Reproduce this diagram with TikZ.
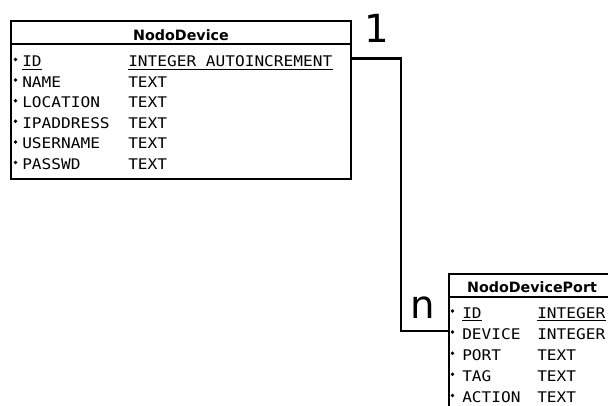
\documentclass[tikz,border=0pt]{standalone}
\usepackage{fontspec}
\newfontfamily\monof[FakeStretch=1.1]{DejaVu Sans Mono}
\newfontfamily\sansf{DejaVu Sans}
\newcommand\mfont{\monof\fontsize{11}{13}\selectfont}
\newcommand\hfont{\sansf\bfseries\fontsize{10.7}{13}\selectfont}
\newcommand\cfont{\sansf\fontsize{29}{32}\selectfont}
\tikzset{
 tbl/.style={draw, line width=1.6pt, inner sep=0pt, outer sep=0pt, anchor=north west},
 hdr/.style={font=\hfont, anchor=base, inner sep=0pt},
 fld/.style={font=\mfont, anchor=base west, inner sep=0pt},
 fdot/.style={circle, fill, inner sep=0pt, minimum size=2.8pt},
 conn/.style={line width=1.6pt},
 sep/.style={line width=1.6pt},
 card/.style={font=\cfont, anchor=base, inner sep=0pt},
 uline/.style={line width=0.8pt}
}
\begin{document}
\begin{tikzpicture}[x=0.75pt,y=-0.75pt]
\useasboundingbox (0,0) rectangle (608,405);
\clip (0,0) rectangle (608,405);
\fill[white] (0,0) rectangle (608,405);
% NodoDevice table
\node[tbl, minimum width=255pt, minimum height=118.5pt] (dev) at (11,21) {};
\node[hdr] (devh) at (181,40) {NodoDevice};
\draw[sep] (dev.west |- 0,44) -- (dev.east |- 0,44);
\foreach \n/\t [count=\i from 0] in {ID/INTEGER AUTOINCREMENT,NAME/TEXT,LOCATION/TEXT,IPADDRESS/TEXT,USERNAME/TEXT,PASSWD/TEXT}{
  \node[fld] (dN\i) at (22,66.5+20.6*\i) {\n};
  \node[fld] (dT\i) at (128,66.5+20.6*\i) {\t};
  \node[fdot] (dD\i) at (15.5,59.5+20.6*\i) {};
}
\draw[uline] ([yshift=-2.2pt]dN0.base west) -- ([yshift=-2.2pt]dN0.base east);
\draw[uline] ([yshift=-2.2pt]dT0.base west) -- ([yshift=-2.2pt]dT0.base east);
% NodoDevicePort table
\node[tbl, minimum width=124.5pt, minimum height=150pt] (port) at (449,274) {};
\node[hdr] (porth) at (532,292.7) {NodoDevicePort};
\draw[sep] (port.west |- 0,297) -- (port.east |- 0,297);
\foreach \n/\t [count=\i from 0] in {ID/INTEGER,DEVICE/INTEGER,PORT/TEXT,TAG/TEXT,ACTION/TEXT}{
  \node[fld] (pN\i) at (462,318+21.1*\i) {\n};
  \node[fld] (pT\i) at (537,318+21.1*\i) {\t};
  \node[fdot] (pD\i) at (452.5,311+21.1*\i) {};
}
\draw[uline] ([yshift=-2.2pt]pN0.base west) -- ([yshift=-2.2pt]pN0.base east);
\draw[uline] ([yshift=-2.2pt]pT0.base west) -- ([yshift=-2.2pt]pT0.base east);
% connector
\coordinate (bend) at (401,0);
\draw[conn] ([yshift=2pt]dev.east |- dN0) -- ([yshift=2pt]bend |- dN0) -- ([yshift=2pt]bend |- pN1) -- ([yshift=2pt]port.west |- pN1);
% cardinalities
\node[card] (c1) at (376.5,42) {1};
\node[card] (cn) at (422.5,318) {n};
\end{tikzpicture}
\end{document}
